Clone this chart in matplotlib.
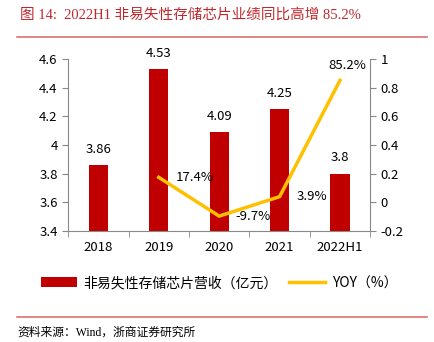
import matplotlib.pyplot as plt
import numpy as np

plt.rcParams['font.family'] = ['Noto Sans CJK SC', 'DejaVu Sans']

# datos
categorias = ['2018', '2019', '2020', '2021', '2022H1']
ingresos = [3.86, 4.53, 4.09, 4.25, 3.8]
yoy = [np.nan, 0.174, -0.097, 0.039, 0.852]
yoy_txt = ['', '17.4%', '-9.7%', '3.9%', '85.2%']

fig = plt.figure(figsize=(4.34, 3.42), dpi=100)
ax = fig.add_axes([0.157, 0.325, 0.696, 0.502])
x = np.arange(len(categorias))

ax.bar(x, ingresos, width=0.32, color='#C00000', label='非易失性存储芯片营收（亿元）', zorder=2)
ax.set_ylim(3.4, 4.6)
ax.set_yticks(np.arange(3.4, 4.61, 0.2))
ax.set_yticklabels(['3.4', '3.6', '3.8', '4', '4.2', '4.4', '4.6'])
ax.set_xlim(-0.5, 4.5)
ax.set_xticks(x)
ax.set_xticklabels(categorias)
ax.set_xticks(np.arange(-0.5, 4.6, 1), minor=True)
ax.tick_params(axis='x', which='major', length=0, pad=7)
ax.tick_params(axis='x', which='minor', length=4, color='#888888')
ax.tick_params(axis='y', length=4, color='#888888', labelsize=9.5)
ax.tick_params(axis='x', labelsize=9.5)
for lado in ['top', 'right']:
    ax.spines[lado].set_visible(False)
for lado in ['left', 'bottom']:
    ax.spines[lado].set_color('#888888')

for i, v in enumerate(ingresos):
    ax.text(x[i], v + 0.065, f'{v:g}', ha='center', va='bottom', fontsize=9.5)

ax2 = ax.twinx()
ax2.plot(x, yoy, color='#FFC000', lw=2.5, label='YOY（%）', zorder=3)
ax2.set_ylim(-0.2, 1.0)
ax2.set_yticks(np.arange(-0.2, 1.01, 0.2))
ax2.set_yticklabels(['-0.2', '0', '0.2', '0.4', '0.6', '0.8', '1'])
ax2.tick_params(axis='y', length=4, color='#888888', labelsize=9.5)
for lado in ['top', 'left', 'bottom']:
    ax2.spines[lado].set_visible(False)
ax2.spines['right'].set_color('#888888')

for i in range(1, 4):
    ax2.annotate(yoy_txt[i], (x[i], yoy[i]), xytext=(12, 0), textcoords='offset points',
                 ha='left', va='center', fontsize=9.5)
ax2.annotate(yoy_txt[4], (x[4], yoy[4]), xytext=(5, 6), textcoords='offset points',
             ha='center', va='bottom', fontsize=9.5)

# leyenda
h1, l1 = ax.get_legend_handles_labels()
h2, l2 = ax2.get_legend_handles_labels()
fig.legend(h1 + h2, l1 + l2, loc='center', bbox_to_anchor=(0.505, 0.172), ncol=2,
           frameon=False, fontsize=10, handlelength=2.6, handleheight=0.75,
           columnspacing=0.8, handletextpad=0.5)

# titulo y fuente
fig.text(0.045, 0.955, '图 14:  2022H1 非易失性存储芯片业绩同比高增 85.2%',
         color='#C0282E', fontsize=10.5, va='center', ha='left',
         family=['Liberation Serif', 'Noto Sans CJK SC'])
fig.add_artist(plt.Line2D([0.04, 0.985], [0.892, 0.892], color='#E07070', lw=1.2))
fig.add_artist(plt.Line2D([0.04, 0.985], [0.073, 0.073], color='#E07070', lw=1.2))
fig.text(0.04, 0.028, '资料来源：Wind，浙商证券研究所', fontsize=8.5, va='center', ha='left',
         family=['Liberation Serif', 'Noto Sans CJK SC'])

fig.savefig('out.png', dpi=100)
